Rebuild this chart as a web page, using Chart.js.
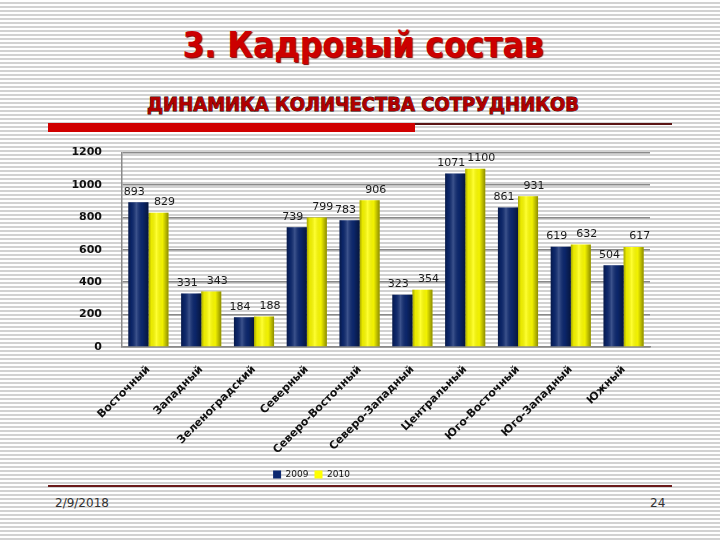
<!DOCTYPE html>
<html>
<head>
<meta charset="utf-8">
<script src="https://cdn.jsdelivr.net/npm/chart.js@4"></script>
<style>
  html, body { margin: 0; padding: 0; }
  body {
    width: 720px; height: 540px; overflow: hidden; position: relative;
    background: repeating-linear-gradient(to bottom, #ffffff 0px, #ffffff 2.5px, #d2d2d2 2.5px, #d2d2d2 4px);
    font-family: "DejaVu Sans", sans-serif;
  }
  .abs { position: absolute; }
  #title {
    left: 0; width: 726px; top: 28px; text-align: center;
    font: bold 35px/35px "DejaVu Sans Condensed", "DejaVu Sans", sans-serif;
    color: #cc0000; text-shadow: 1px 1px 1px #7a0000;
  }
  #subtitle {
    left: 0; width: 726px; top: 94px; text-align: center;
    font: bold 20px/20px "DejaVu Sans Condensed", "DejaVu Sans", sans-serif;
    color: #b00000; -webkit-text-stroke: 0.9px #2a0000; paint-order: stroke fill;
  }
  #redbar { left: 48px; top: 123px; width: 367px; height: 9px; background: #d00000; }
  #thinline { left: 415px; top: 123px; width: 257px; height: 1.5px; background: #5a1414; }
  #bottomline { left: 48px; top: 485px; width: 624px; height: 1.5px; background: #6b1a1a; }
  #wrap { left: -27px; top: 126px; width: 680px; height: 369px; }
  #date { left: 55px; top: 497px; font-size: 12px; line-height: 12px; color: #333; }
  #num { left: 650px; top: 497px; font-size: 12px; line-height: 12px; color: #333; }
</style>
</head>
<body>
<div id="title" class="abs">3. Кадровый состав</div>
<div id="subtitle" class="abs">ДИНАМИКА КОЛИЧЕСТВА СОТРУДНИКОВ</div>
<div id="redbar" class="abs"></div>
<div id="thinline" class="abs"></div>
<div id="wrap" class="abs"><canvas id="chart" width="680" height="369"></canvas></div>
<div id="bottomline" class="abs"></div>
<div id="date" class="abs">2/9/2018</div>
<div id="num" class="abs">24</div>
<script>
const categories = ['Восточный', 'Западный', 'Зеленоградский', 'Северный', 'Северо-Восточный',
  'Северо-Западный', 'Центральный', 'Юго-Восточный', 'Юго-Западный', 'Южный'];
const values2009 = [893, 331, 184, 739, 783, 323, 1071, 861, 619, 504];
const values2010 = [829, 343, 188, 799, 906, 354, 1100, 931, 632, 617];
const seriesNames = ['2009', '2010'];
const yTicks = [0, 200, 400, 600, 800, 1000, 1200];

Chart.defaults.font.family = '"DejaVu Sans", sans-serif';
Chart.defaults.color = '#111';

// cylinder-like shading over each bar
const barShade = {
  id: 'barShade',
  afterDatasetsDraw(chart) {
    const ctx = chart.ctx;
    chart.data.datasets.forEach((ds, i) => {
      chart.getDatasetMeta(i).data.forEach(bar => {
        const left = bar.x - bar.width / 2;
        const g = ctx.createLinearGradient(left, 0, left + bar.width, 0);
        g.addColorStop(0, 'rgba(0,0,0,0.35)');
        g.addColorStop(0.15, 'rgba(0,0,0,0.08)');
        g.addColorStop(0.4, 'rgba(255,255,255,0.2)');
        g.addColorStop(0.7, 'rgba(0,0,0,0.05)');
        g.addColorStop(1, 'rgba(0,0,0,0.45)');
        ctx.save();
        ctx.fillStyle = g;
        ctx.fillRect(left, bar.y, bar.width, bar.base - bar.y);
        ctx.restore();
      });
    });
  }
};

// value labels above bars
const barLabels = {
  id: 'barLabels',
  afterDatasetsDraw(chart) {
    const ctx = chart.ctx;
    ctx.save();
    ctx.font = '11px "DejaVu Sans"';
    ctx.fillStyle = '#1a1a1a';
    ctx.textAlign = 'center';
    ctx.textBaseline = 'bottom';
    chart.data.datasets.forEach((ds, i) => {
      chart.getDatasetMeta(i).data.forEach((bar, j) => {
        const dx = i === 0 ? -4 : 6;
        ctx.fillText(ds.data[j], bar.x + dx, bar.y - 5);
      });
    });
    ctx.restore();
  }
};

new Chart(document.getElementById('chart'), {
  type: 'bar',
  data: {
    labels: categories,
    datasets: [{
      label: seriesNames[0],
      data: values2009,
      backgroundColor: '#0c2870',
      barPercentage: 1,
      categoryPercentage: 0.76
    }, {
      label: seriesNames[1],
      data: values2010,
      backgroundColor: '#ffff00',
      barPercentage: 1,
      categoryPercentage: 0.76
    }]
  },
  options: {
    responsive: false,
    animation: false,
    layout: { padding: { top: 12, right: 3, bottom: 6, left: 0 } },
    plugins: {
      tooltip: { enabled: false },
      legend: {
        position: 'bottom',
        labels: { boxWidth: 8, boxHeight: 8, padding: 6, font: { size: 9 }, color: '#111' }
      }
    },
    scales: {
      x: {
        grid: { display: false },
        border: { color: '#8a8a8a', width: 1.5 },
        ticks: { minRotation: 45, maxRotation: 45, padding: 8, font: { size: 11, weight: 'bold' }, color: '#111' },
        afterFit(scale) { scale.height = 117; }
      },
      y: {
        min: 0,
        max: 1200,
        afterBuildTicks(scale) { scale.ticks = yTicks.map(v => ({ value: v })); },
        grid: { color: '#8a8a8a', lineWidth: 1.5, drawTicks: false },
        border: { color: '#8a8a8a', width: 1.5 },
        ticks: { padding: 20, font: { size: 11, weight: 'bold' }, color: '#111', callback: v => String(v) },
        afterFit(scale) { scale.width = 149; }
      }
    }
  },
  plugins: [barShade, barLabels]
});
</script>
</body>
</html>
